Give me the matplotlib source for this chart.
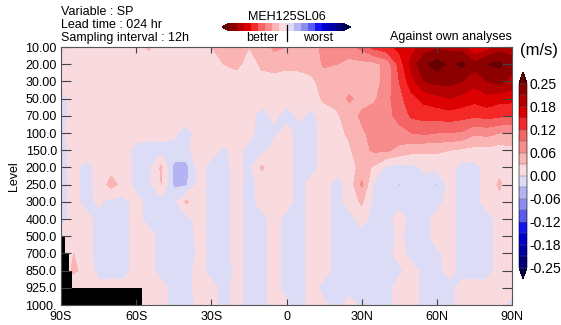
import numpy as np
import matplotlib
matplotlib.use('Agg')
from matplotlib import pyplot as plt
from matplotlib.colors import ListedColormap, BoundaryNorm
from matplotlib.cm import ScalarMappable
from matplotlib.lines import Line2D

plt.rcParams['font.family'] = ['Liberation Sans', 'DejaVu Sans']

# latitude grid (5 deg) and pressure levels, levels are drawn evenly spaced
latitudes = list(range(-90, 91, 5))
level_labels = ["10.00", "20.00", "30.00", "50.00", "70.00", "100.0", "150.0", "200.0",
                "250.0", "300.0", "400.0", "500.0", "700.0", "850.0", "925.0", "1000."]
lat_tick_values = [-90, -60, -30, 0, 30, 60, 90]
lat_tick_labels = ["90S", "60S", "30S", "0", "30N", "60N", "90N"]

# score difference (m/s) per level, one value per 5 deg (90S -> 90N)
err_10 = [.01, .01, .01, .01, .01, .01, .015, .035, .01, .01, .01, .01, .03, .045, .04, .03, .045, .065, .06,
          .045, .045, .07, .075, .08, .10, .13, .14, .16, .17, .19, .20, .20, .19, .15, .16, .19, .20]
err_20 = [.01, .01, .01, .01, .01, .01, .01, .01, .01, .01, .01, .01, .02, .03, .04, .015, .035, .045, .04,
          .04, .04, .065, .06, .05, .05, .05, .07, .13, .19, .24, .27, .24, .26, .22, .25, .26, .22]
err_30 = [.01, .01, .01, .01, .01, .01, .01, .01, .01, .01, .01, .01, .01, .01, .01, .01, .02, .015, .01,
          .015, .025, .04, .045, .045, .045, .05, .07, .12, .17, .21, .22, .22, .21, .19, .21, .22, .20]
err_50 = [-.01, .01, .01, .01, .01, .01, .01, .01, .01, .01, .01, .01, .01, .01, .01, .01, .01, .01, .01,
          .01, .015, .035, .04, .065, .05, .055, .08, .11, .14, .16, .17, .18, .17, .16, .17, .16, .16]
err_70 = [-.01, .01, .01, .01, .01, .01, .01, .01, .01, .01, .01, .01, .01, .01, .01, .01, -.01, .005, -.01,
          .005, -.008, .015, .025, .045, .065, .075, .08, .10, .125, .13, .13, .135, .13, .125, .13, .125, .12]
err_100 = [-.005, .01, .01, .01, .01, .01, .01, .01, .01, .005, -.01, .01, .01, .01, .01, .01, -.012, -.005, .01,
           -.01, -.01, .01, .02, .035, .055, .07, .075, .08, .09, .095, .09, .09, .085, .065, .07, .06, .06]
err_150 = [-.01, .01, .01, .01, .01, .01, -.008, -.01, -.01, -.008, -.012, .03, .01, -.005, .01, -.01, -.01, .01, .01,
           -.01, -.01, .01, .01, .025, .05, .065, .065, .05, .04, .035, .035, .03, .025, .02, .02, .015, .02]
err_200 = [-.01, .01, -.01, .01, .02, .02, -.01, -.01, .035, -.04, -.04, .01, -.01, -.01, .01, -.01, .035, .01, .01,
           -.01, -.01, .01, .008, .01, .045, .025, -.008, -.01, -.01, .005, .008, .01, -.01, -.01, .01, .02, .01]
err_250 = [-.01, .01, -.01, .01, .04, .02, -.01, -.01, .03, -.035, -.035, .01, -.01, -.01, .01, -.012, .01, .01, .01,
           -.01, .01, .01, -.01, .01, .065, -.008, -.01, -.033, -.01, -.01, -.033, .01, -.01, -.01, .01, .035, .01]
err_300 = [-.01, .01, -.01, .005, -.01, -.01, .01, -.01, -.01, -.012, .035, .01, -.01, -.01, .01, -.01, .01, .01, .01,
           -.01, .01, .01, -.01, .01, .035, -.01, -.01, -.01, -.01, -.01, -.01, .01, -.01, -.01, .01, .02, .01]
err_400 = [-.01, .01, .01, -.01, -.01, -.01, .01, -.01, -.01, -.012, -.01, .01, -.01, -.01, .01, -.01, -.01, .01, -.01,
           -.01, .01, .01, -.01, -.01, .01, -.01, -.01, .01, -.01, -.01, .01, .01, -.01, -.01, -.01, .01, .01]
err_500 = [.01, .01, .01, -.01, -.01, -.01, .01, .01, -.01, -.012, -.015, .01, -.01, -.01, .01, -.01, -.01, .01, -.01,
           -.01, .01, .01, -.01, -.01, -.01, -.01, -.01, .005, -.01, -.01, .01, .01, -.01, -.01, -.01, .01, .01]
err_700 = [.01, .03, .01, -.01, -.01, -.01, .01, .01, -.01, -.01, -.032, .01, -.01, -.01, .01, -.01, -.01, .01, -.01,
           -.01, .01, .01, -.01, -.01, -.01, -.01, -.01, .01, -.01, -.01, -.005, .01, -.01, -.01, -.01, .01, .01]
err_850 = [.01, .035, .02, -.01, -.01, -.01, .01, .01, -.01, -.01, -.01, .01, -.01, -.032, .01, -.01, -.01, .01, -.01,
           -.01, .01, .01, -.01, -.01, -.01, -.01, -.01, -.005, .01, -.01, -.01, .01, -.01, -.01, -.01, .01, .01]
err_925 = [.01, .01, .01, .01, .01, .01, .01, .01, .01, -.01, -.01, .01, .01, -.01, .01, -.01, -.01, .01, -.01,
           -.01, .01, -.01, -.01, -.01, -.01, -.01, -.01, .01, .01, -.01, -.01, -.01, .01, .01, .01, .01, .01]
err_1000 = [.01, .01, .01, .01, .01, .01, .01, .01, .01, -.01, -.01, .005, .01, -.01, .01, -.01, -.01, .01, .005,
            -.01, .01, .005, -.01, .01, -.005, -.01, -.01, .01, .01, -.01, -.01, -.01, .01, .01, .01, .01, -.01]

# below-ground cells (black)
ground_west = [-90, -88.5, -87, -85.5]
ground_east = [-88.5, -87, -85.5, -57.5]
ground_top = ["500.0", "700.0", "850.0", "925.0"]

bounds = [-0.25, -0.21, -0.18, -0.15, -0.12, -0.09, -0.06, -0.03, 0.0,
          0.03, 0.06, 0.09, 0.12, 0.15, 0.18, 0.21, 0.25]
cbar_ticks = [-0.25, -0.18, -0.12, -0.06, 0.0, 0.06, 0.12, 0.18, 0.25]
colors = ['#00007d', '#0000a5', '#0000cd', '#1414f0', '#5a5af0', '#8c8cf0', '#b4b4f4', '#dcdcf6',
          '#f8dadf', '#fab4b4', '#f88c8c', '#f56464', '#f52828', '#dc0000', '#b40000', '#8c0000']
under_color = '#00004b'
over_color = '#640000'

if __name__ == "__main__":
    field = np.array([err_10, err_20, err_30, err_50, err_70, err_100, err_150, err_200, err_250,
                      err_300, err_400, err_500, err_700, err_850, err_925, err_1000])
    level_pos = np.arange(len(level_labels))

    cmap = ListedColormap(colors)
    cmap.set_under(under_color)
    cmap.set_over(over_color)
    norm = BoundaryNorm(bounds, cmap.N)

    fig = plt.figure(figsize=(5.61, 3.25), dpi=100)
    ax = fig.add_axes([61 / 561, 20 / 325, 451 / 561, 258 / 325])
    cs = ax.contourf(latitudes, level_pos, field, levels=bounds, cmap=cmap, norm=norm, extend='both')

    for west, east, top in zip(ground_west, ground_east, ground_top):
        top_pos = level_labels.index(top)
        ax.bar(west, level_pos[-1] - top_pos, width=east - west, bottom=top_pos,
               align='edge', color='black', linewidth=0)

    ax.set_xlim(-90, 90)
    ax.set_ylim(level_pos[-1], 0)
    ax.set_xticks(lat_tick_values)
    ax.set_xticklabels(lat_tick_labels)
    ax.set_yticks(level_pos)
    ax.set_yticklabels(level_labels)
    ax.tick_params(axis='x', direction='in', top=True, length=4, labelsize=9, pad=4, color='#444444')
    ax.tick_params(axis='y', direction='in', right=True, length=7, labelsize=9, pad=3, color='#444444')
    for sp in ax.spines.values():
        sp.set_color('#555555')
        sp.set_linewidth(0.8)
    ax.set_ylabel('Level', fontsize=9, labelpad=4)

    # right colour bar, box includes the two end triangles
    cax = fig.add_axes([519 / 561, 46 / 325, 8 / 561, 207 / 325])
    cb = fig.colorbar(cs, cax=cax, extend='both', ticks=cbar_ticks, extendfrac=0.0625, drawedges=True)
    cb.ax.set_yticklabels(['%.2f' % t for t in cbar_ticks])
    cb.ax.tick_params(which='both', length=0, labelsize=10, pad=2)
    cb.outline.set_linewidth(0.4)
    cb.dividers.set_color('#666666')
    cb.dividers.set_linewidth(0.3)
    fig.text(539 / 561, 1 - 50 / 325, '(m/s)', fontsize=12, ha='center', va='center')

    # header colour bar: better (red) to worst (blue)
    cmap_r = ListedColormap(colors[::-1])
    cmap_r.set_under(over_color)
    cmap_r.set_over(under_color)
    cax2 = fig.add_axes([222 / 561, 1 - 31 / 325, 129 / 561, 8 / 325])
    cb2 = fig.colorbar(ScalarMappable(norm=norm, cmap=cmap_r), cax=cax2, orientation='horizontal',
                       extend='both', extendfrac=0.07)
    cb2.set_ticks([])
    cb2.ax.minorticks_off()
    cb2.ax.tick_params(which='both', length=0, labelbottom=False)
    cb2.outline.set_linewidth(0)
    fig.add_artist(Line2D([287 / 561, 287 / 561], [1 - 25 / 325, 1 - 41 / 325],
                          transform=fig.transFigure, color='black', linewidth=0.9))
    fig.text(287 / 561, 1 - 17 / 325, 'MEH125SL06', fontsize=9, ha='center', va='center')
    fig.text(262 / 561, 1 - 38 / 325, 'better', fontsize=9, ha='center', va='center')
    fig.text(318 / 561, 1 - 38 / 325, 'worst', fontsize=9, ha='center', va='center')

    fig.text(61 / 561, 1 - 12 / 325, 'Variable : SP', fontsize=9, ha='left', va='center')
    fig.text(61 / 561, 1 - 25 / 325, 'Lead time : 024 hr', fontsize=9, ha='left', va='center')
    fig.text(61 / 561, 1 - 38 / 325, 'Sampling interval : 12h', fontsize=9, ha='left', va='center')
    fig.text(512 / 561, 1 - 37 / 325, 'Against own analyses', fontsize=9, ha='right', va='center')

    fig.savefig('out.png', dpi=100)
